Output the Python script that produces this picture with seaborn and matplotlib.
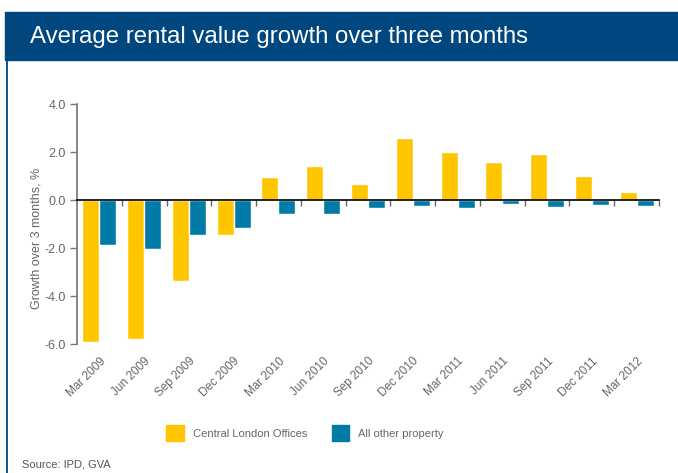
import numpy as np
import pandas as pd
import matplotlib
matplotlib.use('Agg')
import matplotlib.pyplot as plt
from matplotlib.patches import Rectangle
import seaborn as sns

# data
quarters = ['Mar 2009', 'Jun 2009', 'Sep 2009', 'Dec 2009', 'Mar 2010', 'Jun 2010',
            'Sep 2010', 'Dec 2010', 'Mar 2011', 'Jun 2011', 'Sep 2011', 'Dec 2011',
            'Mar 2012']
central_london = [-5.93, -5.79, -3.38, -1.46, 0.94, 1.40, 0.65, 2.57, 2.0, 1.6, 1.93, 1.0, 0.35]
other_property = [-1.89, -2.03, -1.44, -1.18, -0.58, -0.57, -0.32, -0.27, -0.33, -0.17, -0.29, -0.2, -0.26]
series_names = ['Central London Offices', 'All other property']
y_ticks = [-6.0, -4.0, -2.0, 0.0, 2.0, 4.0]

df = pd.DataFrame({
    'quarter': quarters * 2,
    'value': central_london + other_property,
    'series': [series_names[0]] * len(quarters) + [series_names[1]] * len(quarters),
})

yellow = '#FFC600'
blue = '#007BA7'
navy = '#00467F'
grey = '#666666'

sns.set_theme(style='white')
plt.rcParams['font.family'] = ['Liberation Sans', 'DejaVu Sans']

fig = plt.figure(figsize=(6.78, 4.73), dpi=100)
ax = fig.add_axes([77 / 678, 1 - 344 / 473, 582 / 678, 240 / 473])

sns.barplot(data=df, x='quarter', y='value', hue='series', order=quarters,
            palette=[yellow, blue], width=0.76, gap=0, saturation=1,
            ax=ax, legend=False)

ax.set_xlim(-0.5, len(quarters) - 0.5)
ax.set_ylim(-6, 4)
ax.set_yticks(y_ticks)
ax.set_yticklabels([f'{t:.1f}' for t in y_ticks])
ax.tick_params(axis='y', length=5, width=1, color='#777777', labelcolor=grey,
               labelsize=9, pad=3, left=True)
ax.spines['left'].set_color('#777777')
ax.spines['right'].set_visible(False)
ax.spines['top'].set_visible(False)

# zero line with small ticks at category boundaries
ax.spines['bottom'].set_position(('data', 0))
ax.spines['bottom'].set_color('black')
ax.spines['bottom'].set_linewidth(1.2)
ax.set_xticks(np.arange(len(quarters)) + 0.5, minor=True)
ax.set_xticks([])
ax.tick_params(axis='x', which='minor', bottom=True, length=4, width=1,
               color='#666666', direction='out')
ax.set_xlabel('')

# category labels along the bottom
sec = ax.secondary_xaxis('bottom')
sec.set_xticks(range(len(quarters)))
sec.set_xticklabels(quarters, rotation=45, ha='right', rotation_mode='anchor')
sec.tick_params(length=0, labelsize=8.5, labelcolor=grey, pad=8)
sec.spines['bottom'].set_visible(False)

ax.set_ylabel('Growth over 3 months, %', fontsize=9, color=grey)
ax.yaxis.set_label_coords(-0.060, 0.44)

# title bar and frame
fig.patches.append(Rectangle((5 / 678, 1 - 60 / 473), 673 / 678, 48 / 473,
                             transform=fig.transFigure, color=navy, zorder=0))
fig.add_artist(plt.Line2D([6.5 / 678, 6.5 / 678], [0, 1 - 60 / 473],
                          transform=fig.transFigure, color=navy, lw=1.3))
fig.text(30 / 678, 1 - 37 / 473, 'Average rental value growth over three months',
         color='white', fontsize=17.3, va='center', ha='left')

handles = [Rectangle((0, 0), 1, 1, color=yellow), Rectangle((0, 0), 1, 1, color=blue)]
fig.legend(handles, series_names, loc='center', bbox_to_anchor=(305 / 678, 1 - 433 / 473),
           ncol=2, frameon=False, fontsize=8, labelcolor=grey, handlelength=1.6,
           handleheight=1.8, handletextpad=0.8, columnspacing=2.2)

fig.text(22 / 678, 1 - 464 / 473, 'Source: IPD, GVA', fontsize=8, color='#555555',
         va='center', ha='left')

fig.savefig('out.png', dpi=100)
